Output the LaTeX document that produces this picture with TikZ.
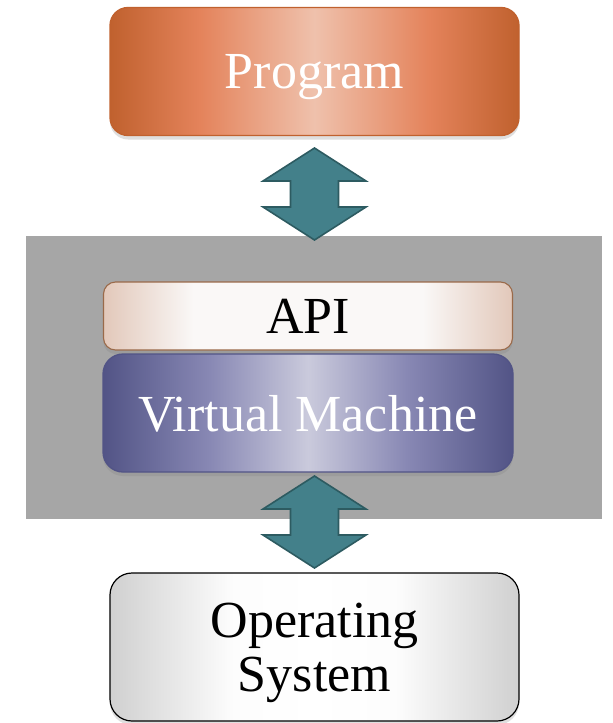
\documentclass[tikz,border=0pt]{standalone}
\usepackage{fontspec}
\setmainfont{Liberation Serif}
\usetikzlibrary{shadows}

\definecolor{progC}{HTML}{EFC1AC}
\definecolor{progM}{HTML}{E4835B}
\definecolor{progE}{HTML}{C0612E}
\definecolor{apiC}{HTML}{FAF8F7}
\definecolor{apiE}{HTML}{E2C8BA}
\definecolor{apiB}{HTML}{9A6A4A}
\definecolor{vmC}{HTML}{CACADC}
\definecolor{vmM}{HTML}{8888B4}
\definecolor{vmE}{HTML}{525486}
\definecolor{osE}{HTML}{D0D0D0}
\definecolor{arrowC}{HTML}{43808A}
\definecolor{arrowB}{HTML}{2D5B61}
\definecolor{bgGray}{HTML}{A6A6A6}

% the box runs from 25bp to 75bp of each shading
\pgfdeclarehorizontalshading{progband}{100bp}{color(0bp)=(progE); color(25bp)=(progE);
  color(36bp)=(progM); color(50bp)=(progC); color(64bp)=(progM); color(75bp)=(progE); color(100bp)=(progE)}
\pgfdeclarehorizontalshading{apiband}{100bp}{color(0bp)=(apiE); color(25bp)=(apiE);
  color(36bp)=(apiC); color(64bp)=(apiC); color(75bp)=(apiE); color(100bp)=(apiE)}
\pgfdeclarehorizontalshading{vmband}{100bp}{color(0bp)=(vmE); color(25bp)=(vmE);
  color(38bp)=(vmM); color(50bp)=(vmC); color(62bp)=(vmM); color(75bp)=(vmE); color(100bp)=(vmE)}
\pgfdeclarehorizontalshading{osband}{100bp}{color(0bp)=(osE); color(25bp)=(osE);
  color(40bp)=(white!95!osE); color(50bp)=(white); color(60bp)=(white!95!osE); color(75bp)=(osE); color(100bp)=(osE)}

\begin{document}
\begin{tikzpicture}[x=1pt,y=-1pt]
\tikzstyle{layer}=[rounded corners=18pt, inner sep=0pt, align=center, text depth=0pt,
  font=\fontsize{52}{54}\selectfont, line width=1.3pt,
  drop shadow={opacity=0.25,shadow xshift=0pt,shadow yshift=-4pt}]
\tikzstyle{arrowbody}=[fill=arrowC, draw=arrowB, line width=1.6pt, line join=miter]
\tikzset{updown/.pic={
  \draw[arrowbody] (0,-46) -- (51.5,-13) -- (24,-13) -- (24,13) -- (51.5,13)
    -- (0,46) -- (-51.5,13) -- (-24,13) -- (-24,-13) -- (-51.5,-13) -- cycle;
}}
\useasboundingbox (0,0) rectangle (613,723);

% grey panel round the API and the VM
\fill[bgGray] (26,236) rectangle (602,519);

\node[layer, shading=progband, draw=progE, text=white,
  minimum width=409pt, minimum height=128pt] (prog) at (314.5,71.5) {Program};
\node[layer, rounded corners=12pt, shading=apiband, draw=apiB, line width=1.1pt,
  minimum width=409pt, minimum height=68pt] (api) at (308,316) {API};
\node[layer, rounded corners=20pt, shading=vmband, draw=vmE, text=white,
  minimum width=410pt, minimum height=118pt] (vm) at (308,413) {Virtual Machine};
\node[layer, rounded corners=22pt, shading=osband, draw=black, line width=1.2pt,
  minimum width=409pt, minimum height=148pt] (os) at (314.5,647) {Operating\\System};

\pic (toprog) at (314.5,194) {updown};
\pic (toos) at (314.5,522) {updown};
\end{tikzpicture}
\end{document}
